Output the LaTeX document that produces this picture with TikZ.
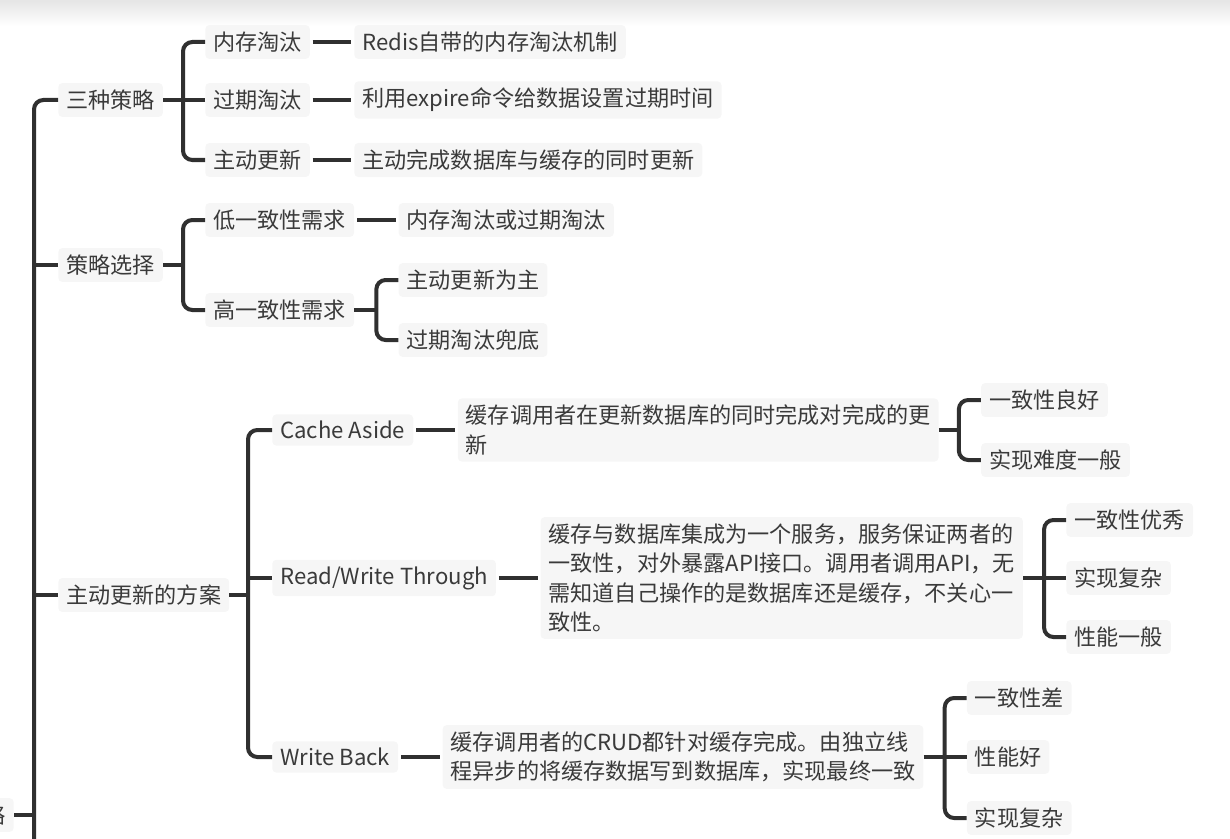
\documentclass[tikz,border=0pt]{standalone}
\usepackage{fontspec}
\setmainfont{Noto Sans CJK SC}
\usepackage{tikz}
\usetikzlibrary{positioning, calc}

\definecolor{lineclr}{HTML}{303030}
\definecolor{textclr}{HTML}{3A3A3A}
\definecolor{boxclr}{HTML}{F6F6F6}

\begin{document}
\begin{tikzpicture}[x=0.75pt, y=-0.75pt,
  every node/.style={font=\fontsize{16.6}{22}\selectfont, text=textclr, inner xsep=6pt, inner ysep=5pt},
  topic/.style={fill=boxclr, rounded corners=3pt, anchor=west},
  leaf/.style={topic, align=left},
  link/.style={draw=lineclr, line width=3pt},
  brace/.style={link, rounded corners=7pt}]
  \useasboundingbox (0,0) rectangle (1230,838);
  \clip (0,0) rectangle (1230,838);
  \fill[top color=black!10, bottom color=white] (0,0) rectangle (1230,26);

  % trunk and first level
  \coordinate (trunk) at (34,0);
  \node[topic] (s1) at (58,100) {三种策略};
  \node[topic] (s2) at (58,265) {策略选择};
  \node[topic] (s3) at (58,595) {主动更新的方案};
  \node[topic, anchor=east] (root) at (14,815) {略};
  \draw[brace] (s1.west) -| (34,860);
  \draw[link] (s2.west) -- (s2.west -| trunk);
  \draw[link] (s3.west) -- (s3.west -| trunk);
  \draw[link] (root.east) -- (root.east -| trunk);

  % 三种策略
  \coordinate (k1) at (183,100);
  \node[topic] (a1) at (205,42) {内存淘汰};
  \node[topic] (a2) at (205,100) {过期淘汰};
  \node[topic] (a3) at (205,160) {主动更新};
  \node[leaf, right=33pt of a1] (a1t) {Redis自带的内存淘汰机制};
  \node[leaf, right=33pt of a2] (a2t) {利用expire命令给数据设置过期时间};
  \node[leaf, right=33pt of a3] (a3t) {主动完成数据库与缓存的同时更新};
  \draw[link] (s1.east) -- (k1);
  \draw[brace] (a1.west) -| (k1) |- (a3.west);
  \draw[link] (a2.west) -- (a2.west -| k1);
  \draw[link, shorten <=2pt, shorten >=2pt] (a1.east) -- (a1t.west);
  \draw[link, shorten <=2pt, shorten >=2pt] (a2.east) -- (a2t.west);
  \draw[link, shorten <=2pt, shorten >=2pt] (a3.east) -- (a3t.west);

  % 策略选择
  \coordinate (k2) at (183,265);
  \node[topic] (b1) at (205,220) {低一致性需求};
  \node[topic] (b2) at (205,310) {高一致性需求};
  \node[leaf, right=33pt of b1] (b1t) {内存淘汰或过期淘汰};
  \draw[link] (s2.east) -- (k2);
  \draw[brace] (b1.west) -| (k2) |- (b2.west);
  \draw[link, shorten <=2pt, shorten >=2pt] (b1.east) -- (b1t.west);
  \coordinate (k3) at ($(b2.east)+(22,0)$);
  \node[topic] (c1) at ($(k3)+(22,-30)$) {主动更新为主};
  \node[topic] (c2) at ($(k3)+(22,30)$) {过期淘汰兜底};
  \draw[link] (b2.east) -- (k3);
  \draw[brace] (c1.west) -| (k3) |- (c2.west);

  % 主动更新的方案
  \coordinate (k4) at (248,595);
  \node[topic] (d1) at (272,430) {Cache Aside};
  \node[topic] (d2) at (272,578) {Read/Write Through};
  \node[topic] (d3) at (272,757) {Write Back};
  \draw[link] (s3.east) -- (k4);
  \draw[brace] (d1.west) -| (k4) |- (d3.west);
  \draw[link] (d2.west) -- (d2.west -| k4);
  \node[leaf, right=33pt of d1] (d1t) {缓存调用者在更新数据库的同时完成对完成的更\\新};
  \node[leaf, right=33pt of d2] (d2t) {缓存与数据库集成为一个服务，服务保证两者的\\一致性，对外暴露API接口。调用者调用API，无\\需知道自己操作的是数据库还是缓存，不关心一\\致性。};
  \node[leaf, right=33pt of d3] (d3t) {缓存调用者的CRUD都针对缓存完成。由独立线\\程异步的将缓存数据写到数据库，实现最终一致};
  \draw[link, shorten <=2pt, shorten >=2pt] (d1.east) -- (d1t.west);
  \draw[link, shorten <=2pt, shorten >=2pt] (d2.east) -- (d2t.west);
  \draw[link, shorten <=2pt, shorten >=2pt] (d3.east) -- (d3t.west);

  % Cache Aside
  \coordinate (k5) at ($(d1t.east)+(20,0)$);
  \node[topic] (e1) at ($(k5)+(22,-30)$) {一致性良好};
  \node[topic] (e2) at ($(k5)+(22,30)$) {实现难度一般};
  \draw[link] (d1t.east) -- (k5);
  \draw[brace] (e1.west) -| (k5) |- (e2.west);

  % Read/Write Through
  \coordinate (k6) at ($(d2t.east)+(21,0)$);
  \node[topic] (f1) at ($(k6)+(22,-58)$) {一致性优秀};
  \node[topic] (f2) at ($(k6)+(22,0)$) {实现复杂};
  \node[topic] (f3) at ($(k6)+(22,59)$) {性能一般};
  \draw[link] (d2t.east) -- (k6);
  \draw[brace] (f1.west) -| (k6) |- (f3.west);
  \draw[link] (f2.west) -- (k6);

  % Write Back
  \coordinate (k7) at ($(d3t.east)+(21,0)$);
  \node[topic] (g1) at ($(k7)+(22,-59)$) {一致性差};
  \node[topic] (g2) at ($(k7)+(22,0)$) {性能好};
  \node[topic] (g3) at ($(k7)+(22,61)$) {实现复杂};
  \draw[link] (d3t.east) -- (k7);
  \draw[brace] (g1.west) -| (k7) |- (g3.west);
  \draw[link] (g2.west) -- (k7);
\end{tikzpicture}
\end{document}
